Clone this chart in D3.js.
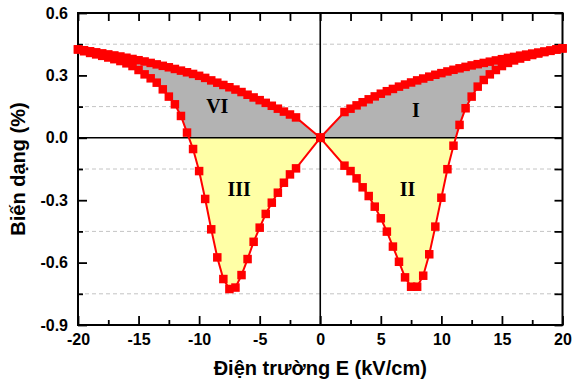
<!DOCTYPE html>
<html>
<head>
<meta charset="utf-8">
<script src="https://cdn.jsdelivr.net/npm/d3@7"></script>
<style>
  body { margin: 0; background: #fff; }
  svg { display: block; }
</style>
</head>
<body>
<script>
// field values (kV/cm), same grid for both branches on each side
const ePos = [0, 2, 2.5, 3, 3.5, 4, 4.5, 5, 5.5, 6, 6.5, 7, 7.5, 8, 8.5, 9, 9.5, 10, 10.5, 11, 11.5,
  12, 12.5, 13, 13.5, 14, 14.5, 15, 15.5, 16, 16.5, 17, 17.5, 18, 18.5, 19, 19.5, 20]
const eNeg = [0, -2, -2.5, -3, -3.5, -4, -4.5, -5, -5.5, -6, -6.5, -7, -7.5, -8, -8.5, -9, -9.5, -10, -10.5, -11, -11.5,
  -12, -12.5, -13, -13.5, -14, -14.5, -15, -15.5, -16, -16.5, -17, -17.5, -18, -18.5, -19, -19.5, -20]

// strain (%)
const upperRight = [0, 0.124, 0.14, 0.156, 0.171, 0.185, 0.199, 0.212, 0.224, 0.235, 0.246, 0.256, 0.266, 0.276, 0.285,
  0.294, 0.303, 0.311, 0.319, 0.327, 0.334, 0.341, 0.348, 0.354, 0.36, 0.366, 0.372, 0.378, 0.384, 0.389, 0.395,
  0.4, 0.405, 0.41, 0.415, 0.42, 0.425, 0.43]
const lowerRight = [0, -0.134, -0.16, -0.195, -0.238, -0.28, -0.331, -0.387, -0.451, -0.523, -0.596, -0.671, -0.716,
  -0.716, -0.663, -0.56, -0.427, -0.288, -0.151, -0.038, 0.062, 0.142, 0.198, 0.246, 0.278, 0.305, 0.326, 0.345,
  0.36, 0.372, 0.381, 0.39, 0.398, 0.405, 0.412, 0.418, 0.424, 0.43]
const upperLeft = [0, 0.098, 0.112, 0.126, 0.14, 0.154, 0.168, 0.181, 0.194, 0.207, 0.22, 0.232, 0.243, 0.254, 0.265,
  0.276, 0.288, 0.298, 0.307, 0.315, 0.323, 0.331, 0.339, 0.346, 0.353, 0.36, 0.367, 0.373, 0.379, 0.385, 0.391,
  0.396, 0.401, 0.406, 0.411, 0.416, 0.421, 0.425]
const lowerLeft = [0, -0.147, -0.176, -0.216, -0.264, -0.312, -0.366, -0.432, -0.5, -0.583, -0.66, -0.72, -0.727,
  -0.679, -0.575, -0.44, -0.294, -0.16, -0.054, 0.025, 0.105, 0.161, 0.198, 0.233, 0.265, 0.286, 0.305, 0.326,
  0.345, 0.358, 0.369, 0.378, 0.386, 0.394, 0.401, 0.408, 0.416, 0.425]

const xMajor = [-20, -15, -10, -5, 0, 5, 10, 15, 20]
const xMinor = [-17.5, -12.5, -7.5, -2.5, 2.5, 7.5, 12.5, 17.5]
const yMajor = [-0.9, -0.6, -0.3, 0, 0.3, 0.6]
const yMinor = [-0.75, -0.45, -0.15, 0.15, 0.45]

const regionLabels = [
  { text: 'I', e: 7.9, s: 0.1 },
  { text: 'II', e: 7.2, s: -0.28 },
  { text: 'III', e: -6.7, s: -0.28 },
  { text: 'VI', e: -8.5, s: 0.12 }
]

const width = 573
const height = 382
const mLeft = 78, mRight = 562.5, mTop = 13, mBottom = 325

const svg = d3.select('body').append('svg')
  .attr('width', width)
  .attr('height', height)

const x = d3.scaleLinear().domain([-20, 20]).range([mLeft, mRight])
const y = d3.scaleLinear().domain([-0.9, 0.6]).range([mBottom, mTop])

// grid lines at the minor positions
svg.append('g')
  .selectAll('line')
  .data(yMinor)
  .enter()
  .append('line')
  .attr('x1', mLeft).attr('x2', mRight)
  .attr('y1', d => y(d)).attr('y2', d => y(d))
  .attr('stroke', '#c4c4c4')
  .attr('stroke-width', 1)
  .attr('stroke-dasharray', '4,3')

// combine into one loop from -20 to 20
const loop = []
for (let i = eNeg.length - 1; i >= 0; i--) loop.push({ e: eNeg[i], up: upperLeft[i], lo: lowerLeft[i] })
for (let i = 1; i < ePos.length; i++) loop.push({ e: ePos[i], up: upperRight[i], lo: lowerRight[i] })

const defs = svg.append('defs')
defs.append('clipPath').attr('id', 'above')
  .append('rect').attr('x', mLeft).attr('y', mTop).attr('width', mRight - mLeft).attr('height', y(0) - mTop)
defs.append('clipPath').attr('id', 'below')
  .append('rect').attr('x', mLeft).attr('y', y(0)).attr('width', mRight - mLeft).attr('height', mBottom - y(0))

const area = d3.area()
  .x(d => x(d.e))
  .y0(d => y(d.lo))
  .y1(d => y(d.up))

svg.append('path').datum(loop)
  .attr('d', area)
  .attr('fill', '#b3b3b3')
  .attr('clip-path', 'url(#above)')

svg.append('path').datum(loop)
  .attr('d', area)
  .attr('fill', '#ffffa6')
  .attr('clip-path', 'url(#below)')

// zero lines
svg.append('line')
  .attr('x1', mLeft).attr('x2', mRight)
  .attr('y1', y(0)).attr('y2', y(0))
  .attr('stroke', '#000').attr('stroke-width', 1.6)
svg.append('line')
  .attr('x1', x(0)).attr('x2', x(0))
  .attr('y1', mTop).attr('y2', mBottom)
  .attr('stroke', '#000').attr('stroke-width', 1.6)

// axes
function styleAxis(g) {
  g.select('.domain').remove()
  g.selectAll('.tick line').attr('stroke', '#000').attr('stroke-width', 1.8)
  g.selectAll('.tick text')
    .attr('fill', '#000')
    .style('font-family', '"Liberation Sans", Arial, sans-serif')
    .style('font-weight', 'bold')
    .style('font-size', '16px')
}

svg.append('g')
  .attr('transform', `translate(0,${mBottom})`)
  .call(d3.axisBottom(x).tickValues(xMajor).tickSizeInner(-9).tickSizeOuter(0).tickPadding(9).tickFormat(d => d))
  .call(styleAxis)
svg.append('g')
  .attr('transform', `translate(0,${mBottom})`)
  .call(d3.axisBottom(x).tickValues(xMinor).tickSizeInner(-5).tickSizeOuter(0).tickFormat(''))
  .call(styleAxis)

svg.append('g')
  .attr('transform', `translate(${mLeft},0)`)
  .call(d3.axisLeft(y).tickValues(yMajor).tickSizeInner(-9).tickSizeOuter(0).tickPadding(10).tickFormat(d => d.toFixed(1)))
  .call(styleAxis)
svg.append('g')
  .attr('transform', `translate(${mLeft},0)`)
  .call(d3.axisLeft(y).tickValues(yMinor).tickSizeInner(-5).tickSizeOuter(0).tickFormat(''))
  .call(styleAxis)

svg.append('g')
  .attr('transform', `translate(0,${mTop})`)
  .call(d3.axisTop(x).tickValues(xMajor.concat(xMinor)).tickSizeInner(-8).tickSizeOuter(0).tickFormat(''))
  .call(styleAxis)
svg.append('g')
  .attr('transform', `translate(${mRight},0)`)
  .call(d3.axisRight(y).tickValues(yMajor.concat(yMinor)).tickSizeInner(-8).tickSizeOuter(0).tickFormat(''))
  .call(styleAxis)

svg.append('rect')
  .attr('x', mLeft).attr('y', mTop)
  .attr('width', mRight - mLeft).attr('height', mBottom - mTop)
  .attr('fill', 'none')
  .attr('stroke', '#000')
  .attr('stroke-width', 2)

// branches
const branches = [
  [ePos, upperRight], [ePos, lowerRight], [eNeg, upperLeft], [eNeg, lowerLeft]
]
const line = d3.line().x(d => x(d[0])).y(d => y(d[1]))
const sq = 8.5

branches.forEach(([es, ss]) => {
  const pts = es.map((e, i) => [e, ss[i]])
  svg.append('path').datum(pts)
    .attr('d', line)
    .attr('fill', 'none')
    .attr('stroke', '#ff0000')
    .attr('stroke-width', 2)
  svg.append('g')
    .selectAll('rect')
    .data(pts)
    .enter()
    .append('rect')
    .attr('x', d => x(d[0]) - sq / 2)
    .attr('y', d => y(d[1]) - sq / 2)
    .attr('width', sq)
    .attr('height', sq)
    .attr('fill', '#ff0000')
})

// region labels
svg.append('g')
  .selectAll('text')
  .data(regionLabels)
  .enter()
  .append('text')
  .attr('x', d => x(d.e))
  .attr('y', d => y(d.s))
  .attr('text-anchor', 'middle')
  .style('font-family', '"Liberation Serif", "Times New Roman", serif')
  .style('font-weight', 'bold')
  .style('font-size', '20px')
  .text(d => d.text)

// axis titles
svg.append('text')
  .attr('x', (mLeft + mRight) / 2)
  .attr('y', 375)
  .attr('text-anchor', 'middle')
  .style('font-family', '"Liberation Sans", Arial, sans-serif')
  .style('font-weight', 'bold')
  .style('font-size', '20px')
  .text('Điện trường E (kV/cm)')

svg.append('text')
  .attr('transform', `translate(25,${(mTop + mBottom) / 2}) rotate(-90)`)
  .attr('text-anchor', 'middle')
  .style('font-family', '"Liberation Sans", Arial, sans-serif')
  .style('font-weight', 'bold')
  .style('font-size', '20px')
  .text('Biến dạng (%)')
</script>
</body>
</html>
